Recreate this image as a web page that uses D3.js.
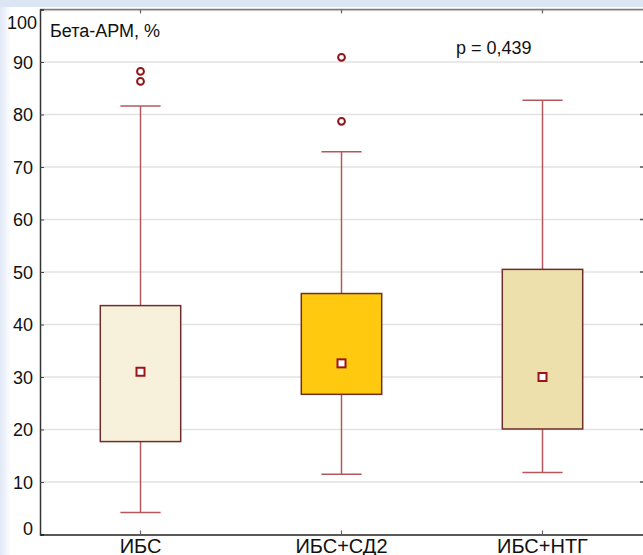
<!DOCTYPE html>
<html>
<head>
<meta charset="utf-8">
<script src="https://cdn.jsdelivr.net/npm/d3@7"></script>
<style>
  html, body { margin: 0; padding: 0; background: #fff; }
  svg { display: block; }
  text { font-family: "Liberation Sans", Arial, sans-serif; fill: #111; }
</style>
</head>
<body>
<svg id="chart" width="643" height="555"></svg>
<script>
// Group labels and box-plot statistics (Бета-АРМ, %)
const categories = ["ИБС", "ИБС+СД2", "ИБС+НТГ"];
const boxLow = [17.7, 26.7, 20.1];
const boxHigh = [43.6, 45.9, 50.5];
const means = [31.0, 32.6, 30.0];
const whiskerLow = [4.2, 11.5, 11.8];
const whiskerHigh = [81.6, 72.9, 82.7];
const outliers = [[88.2, 86.3], [90.9, 78.7], []];
const fills = ["#f7f0da", "#fec90f", "#eee0ad"];
const yTicks = [0, 10, 20, 30, 40, 50, 60, 70, 80, 90, 100];

const W = 643, H = 555;
const margin = { left: 40, right: 0, top: 9.5, bottom: 555 - 534.5 };

const svg = d3.select("#chart");

// Window-like backdrop strips
const defs = svg.append("defs");
const lg = defs.append("linearGradient").attr("id", "leftFade").attr("x1", 0).attr("x2", 1).attr("y1", 0).attr("y2", 0);
lg.append("stop").attr("offset", 0).attr("stop-color", "#dfe8f5");
lg.append("stop").attr("offset", 1).attr("stop-color", "#ffffff");
svg.append("rect").attr("x", 0).attr("y", 0).attr("width", 11).attr("height", H).attr("fill", "url(#leftFade)");
svg.append("rect").attr("x", 0).attr("y", 0).attr("width", W).attr("height", 7).attr("fill", "#dbe5f3");

const x = d3.scaleBand().domain(categories).range([margin.left, W - margin.right]).paddingInner(0).paddingOuter(0);
const y = d3.scaleLinear().domain([0, 100]).range([H - margin.bottom, margin.top]);

// Horizontal grid lines
svg.append("g").selectAll("line").data(yTicks.filter(t => t > 0 && t < 100)).join("line")
  .attr("x1", margin.left).attr("x2", W)
  .attr("y1", d => y(d)).attr("y2", d => y(d))
  .attr("stroke", "#e2e2e2").attr("stroke-width", 1.5);

// Small right-edge ticks
svg.append("g").selectAll("line").data(yTicks.filter(t => t > 0 && t < 100)).join("line")
  .attr("x1", W - 3).attr("x2", W)
  .attr("y1", d => y(d)).attr("y2", d => y(d))
  .attr("stroke", "#555").attr("stroke-width", 1.5);

// Top frame line
svg.append("line").attr("x1", margin.left).attr("x2", W)
  .attr("y1", y(100) + 1.2).attr("y2", y(100) + 1.2).attr("stroke", "#d8d8d8").attr("stroke-width", 1);
svg.append("line").attr("x1", margin.left).attr("x2", W)
  .attr("y1", y(100)).attr("y2", y(100)).attr("stroke", "#7a7a7a").attr("stroke-width", 1.5);

// Axes
const yAxis = d3.axisLeft(y).tickValues(yTicks).tickSize(-4).tickPadding(7);
const gy = svg.append("g").attr("transform", `translate(${margin.left},0)`).call(yAxis);
gy.select(".domain").attr("stroke", "#333").attr("stroke-width", 1.5);
gy.selectAll(".tick line").attr("stroke", "#444");
gy.selectAll(".tick text")
  .style("font-size", "18px").style("font-family", "Liberation Sans, Arial, sans-serif").attr("fill", "#111")
  .attr("x", d => d === 100 ? -3 : -7)
  .attr("dy", d => d === 100 ? "1.05em" : d === 0 ? "0.02em" : "0.34em");

const xAxis = d3.axisBottom(x).tickSize(0).tickPadding(0);
const gx = svg.append("g").attr("transform", `translate(0,${y(0)})`).call(xAxis);
gx.select(".domain").attr("stroke", "#222").attr("stroke-width", 1.5);
gx.selectAll(".tick text").style("font-size", "20px").style("font-family", "Liberation Sans, Arial, sans-serif")
  .attr("fill", "#111").attr("dy", "0").attr("y", 18);

// Category ticks on the top frame and bottom axis
svg.append("g").selectAll("line").data(categories).join("line")
  .attr("x1", d => x(d) + x.bandwidth() / 2).attr("x2", d => x(d) + x.bandwidth() / 2)
  .attr("y1", y(100)).attr("y2", y(100) + 4).attr("stroke", "#666").attr("stroke-width", 1.2);
svg.append("g").selectAll("line").data(categories).join("line")
  .attr("x1", d => x(d) + x.bandwidth() / 2).attr("x2", d => x(d) + x.bandwidth() / 2)
  .attr("y1", y(0)).attr("y2", y(0) - 4).attr("stroke", "#666").attr("stroke-width", 1.2);

// Box plots
const boxW = x.bandwidth() * 0.4;
const capW = boxW * 0.5;
const groups = svg.append("g").selectAll("g").data(categories).join("g")
  .attr("transform", d => `translate(${x(d) + x.bandwidth() / 2},0)`);

const whiskerColor = "#b4585b";
groups.append("line").attr("x1", 0).attr("x2", 0)
  .attr("y1", (d, i) => y(whiskerHigh[i])).attr("y2", (d, i) => y(boxHigh[i]))
  .attr("stroke", whiskerColor).attr("stroke-width", 1.5);
groups.append("line").attr("x1", 0).attr("x2", 0)
  .attr("y1", (d, i) => y(boxLow[i])).attr("y2", (d, i) => y(whiskerLow[i]))
  .attr("stroke", whiskerColor).attr("stroke-width", 1.5);
groups.append("line").attr("x1", -capW / 2).attr("x2", capW / 2)
  .attr("y1", (d, i) => y(whiskerHigh[i])).attr("y2", (d, i) => y(whiskerHigh[i]))
  .attr("stroke", whiskerColor).attr("stroke-width", 1.5);
groups.append("line").attr("x1", -capW / 2).attr("x2", capW / 2)
  .attr("y1", (d, i) => y(whiskerLow[i])).attr("y2", (d, i) => y(whiskerLow[i]))
  .attr("stroke", whiskerColor).attr("stroke-width", 1.5);

groups.append("rect")
  .attr("x", -boxW / 2).attr("width", boxW)
  .attr("y", (d, i) => y(boxHigh[i])).attr("height", (d, i) => y(boxLow[i]) - y(boxHigh[i]))
  .attr("fill", (d, i) => fills[i]).attr("stroke", "#6f2e2e").attr("stroke-width", 1.5);

// Mean markers
groups.append("rect")
  .attr("x", -4).attr("width", 8)
  .attr("y", (d, i) => y(means[i]) - 4).attr("height", 8)
  .attr("fill", "#fff").attr("stroke", "#9c1416").attr("stroke-width", 2);

// Outliers
groups.each(function (d, i) {
  d3.select(this).selectAll("circle").data(outliers[i]).join("circle")
    .attr("cx", 0).attr("cy", v => y(v)).attr("r", 3.4)
    .attr("fill", "#fff").attr("stroke", "#8e1518").attr("stroke-width", 2);
});

// Annotations
svg.append("text").attr("x", 50).attr("y", 37).style("font-size", "18px").text("Бета-АРМ, %");
svg.append("text").attr("x", 456).attr("y", 54).style("font-size", "18px").text("p = 0,439");
</script>
</body>
</html>
